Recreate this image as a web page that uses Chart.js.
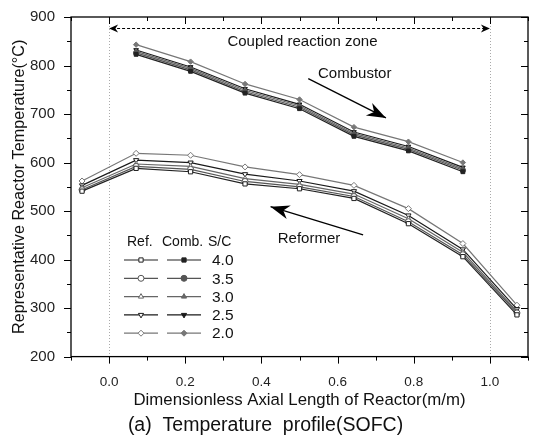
<!DOCTYPE html>
<html>
<head>
<meta charset="utf-8">
<script src="https://cdn.jsdelivr.net/npm/chart.js@4.4.1/dist/chart.umd.min.js"></script>
<style>
html, body { margin: 0; padding: 0; background: #fff; }
</style>
</head>
<body>
<canvas id="tempChart" width="533" height="445"></canvas>
<script>
// axial positions (m/m)
const combX = [0.071, 0.214, 0.357, 0.5, 0.643, 0.786, 0.929];
const refX = [-0.071, 0.071, 0.214, 0.357, 0.5, 0.643, 0.786, 0.929, 1.071];
const ratios = ['4.0', '3.5', '3.0', '2.5', '2.0'];

// combustor temperatures by S/C
const comb40 = [823, 788, 743, 711, 654, 624, 581];
const comb35 = [826, 791, 746, 714, 657, 627, 584];
const comb30 = [829, 794, 749, 717, 660, 630, 587];
const comb25 = [832, 797, 752, 720, 663, 633, 590];
const comb20 = [843, 808, 762, 730, 673, 643, 600];

// reformer temperatures by S/C
const ref40 = [541, 588, 581, 556, 546, 526, 474, 406, 286];
const ref35 = [544, 592, 586, 561, 550, 530, 478, 410, 290];
const ref30 = [548, 597, 592, 567, 555, 535, 484, 415, 293];
const ref25 = [553, 605, 600, 576, 562, 541, 491, 421, 298];
const ref20 = [562, 619, 615, 591, 575, 553, 505, 433, 306];

const xTicks = [0.0, 0.2, 0.4, 0.6, 0.8, 1.0];
const yTicks = [200, 300, 400, 500, 600, 700, 800, 900];

const FONT = "'Liberation Sans', Arial, sans-serif";

const styles = [
	{ color: '#222', style: 'rect', rot: 0 },
	{ color: '#555', style: 'circle', rot: 0 },
	{ color: '#666', style: 'triangle', rot: 0 },
	{ color: '#1a1a1a', style: 'triangle', rot: 180 },
	{ color: '#777', style: 'rectRot', rot: 0 },
];

function pts(xs, ys) {
	return xs.map((v, i) => ({ x: v, y: ys[i] }));
}

const refSeries = [ref40, ref35, ref30, ref25, ref20];
const combSeries = [comb40, comb35, comb30, comb25, comb20];
const datasets = [];
refSeries.forEach((s, i) => {
	datasets.push({
		label: 'Ref. ' + ratios[i],
		data: pts(refX, s),
		borderColor: styles[i].color,
		backgroundColor: '#fff',
		pointBorderColor: styles[i].color,
		pointBackgroundColor: '#fff',
		pointStyle: styles[i].style,
		pointRotation: styles[i].rot,
		pointRadius: 3,
		borderWidth: 1.2,
		pointBorderWidth: 1,
	});
});
combSeries.forEach((s, i) => {
	datasets.push({
		label: 'Comb. ' + ratios[i],
		data: pts(combX, s),
		borderColor: styles[i].color,
		backgroundColor: styles[i].color,
		pointBorderColor: styles[i].color,
		pointBackgroundColor: styles[i].color,
		pointStyle: styles[i].style,
		pointRotation: styles[i].rot,
		pointRadius: 2.7,
		borderWidth: 1.2,
		pointBorderWidth: 1,
	});
});

function arrowHead(ctx, x1, y1, x2, y2, len, wid) {
	// filled head at (x2, y2)
	const a = Math.atan2(y2 - y1, x2 - x1);
	ctx.beginPath();
	ctx.moveTo(x2, y2);
	ctx.lineTo(x2 - len * Math.cos(a) + wid * Math.sin(a), y2 - len * Math.sin(a) - wid * Math.cos(a));
	ctx.lineTo(x2 - len * 0.7 * Math.cos(a), y2 - len * 0.7 * Math.sin(a));
	ctx.lineTo(x2 - len * Math.cos(a) - wid * Math.sin(a), y2 - len * Math.sin(a) + wid * Math.cos(a));
	ctx.closePath();
	ctx.fill();
}

const zonePlugin = {
	id: 'zone',
	beforeDatasetsDraw(chart) {
		const { ctx, chartArea: a, scales: { x } } = chart;
		ctx.save();
		ctx.strokeStyle = '#aaa';
		ctx.lineWidth = 1;
		ctx.setLineDash([1, 2]);
		[0, 1].forEach((v) => {
			const px = Math.round(x.getPixelForValue(v)) + 0.5;
			ctx.beginPath();
			ctx.moveTo(px, a.top);
			ctx.lineTo(px, a.bottom);
			ctx.stroke();
		});
		ctx.restore();
	},
	afterDraw(chart) {
		const { ctx, chartArea: a, scales: { x, y } } = chart;
		ctx.save();

		// coupled reaction zone arrow
		const x0 = x.getPixelForValue(0), x1 = x.getPixelForValue(1);
		const ya = Math.round(y.getPixelForValue(878)) + 0.5;
		ctx.strokeStyle = '#000';
		ctx.fillStyle = '#000';
		ctx.lineWidth = 1;
		ctx.setLineDash([3, 2]);
		ctx.beginPath();
		ctx.moveTo(x0 + 3, ya);
		ctx.lineTo(x1 - 3, ya);
		ctx.stroke();
		ctx.setLineDash([]);
		arrowHead(ctx, x0 + 10, ya, x0, ya, 9, 4);
		arrowHead(ctx, x1 - 10, ya, x1, ya, 9, 4);
		ctx.font = '15px ' + FONT;
		ctx.textAlign = 'center';
		ctx.textBaseline = 'middle';
		ctx.fillStyle = '#111';
		ctx.fillText('Coupled reaction zone', (x0 + x1) / 2 + 3, y.getPixelForValue(848));

		// combustor label and arrow
		ctx.fillText('Combustor', x.getPixelForValue(0.645), y.getPixelForValue(783));
		let ax1 = x.getPixelForValue(0.523), ay1 = y.getPixelForValue(773);
		let ax2 = x.getPixelForValue(0.727), ay2 = y.getPixelForValue(692);
		ctx.strokeStyle = '#000';
		ctx.lineWidth = 1.3;
		ctx.beginPath();
		ctx.moveTo(ax1, ay1);
		ctx.lineTo(ax2, ay2);
		ctx.stroke();
		ctx.fillStyle = '#000';
		arrowHead(ctx, ax1, ay1, ax2, ay2, 19, 7);

		// reformer label and arrow
		ctx.fillStyle = '#111';
		ctx.fillText('Reformer', x.getPixelForValue(0.525), y.getPixelForValue(443));
		ax1 = x.getPixelForValue(0.667); ay1 = y.getPixelForValue(451);
		ax2 = x.getPixelForValue(0.424); ay2 = y.getPixelForValue(509);
		ctx.beginPath();
		ctx.moveTo(ax1, ay1);
		ctx.lineTo(ax2, ay2);
		ctx.stroke();
		ctx.fillStyle = '#000';
		arrowHead(ctx, ax1, ay1, ax2, ay2, 19, 7);

		// legend
		const ds = chart.data.datasets;
		ctx.font = '14px ' + FONT;
		ctx.textAlign = 'left';
		ctx.textBaseline = 'middle';
		ctx.fillStyle = '#111';
		ctx.fillText('Ref.', 127, 242);
		ctx.fillText('Comb.', 162, 242);
		ctx.fillText('S/C', 208, 242);
		ctx.font = '15.5px ' + FONT;
		ratios.forEach((r, i) => {
			const ly = 260 + i * 18.3;
			[[ds[i], 124, 158], [ds[i + 5], 167, 201]].forEach(([d, l, rgt]) => {
				ctx.strokeStyle = d.borderColor;
				ctx.lineWidth = 1.2;
				ctx.beginPath();
				ctx.moveTo(l, ly);
				ctx.lineTo(rgt, ly);
				ctx.stroke();
				ctx.fillStyle = d.pointBackgroundColor;
				ctx.strokeStyle = d.pointBorderColor;
				ctx.lineWidth = 1;
				Chart.helpers.drawPoint(ctx, { pointStyle: d.pointStyle, rotation: d.pointRotation, radius: 3, borderWidth: 1 }, (l + rgt) / 2, ly);
			});
			ctx.fillStyle = '#111';
			ctx.fillText(r, 212, ly + 1);
		});

		// frame and ticks
		ctx.strokeStyle = '#000';
		ctx.lineWidth = 1.3;
		ctx.strokeRect(a.left, a.top, a.right - a.left, a.bottom - a.top);
		ctx.lineWidth = 1;
		ctx.beginPath();
		for (let i = 0; i <= 12; i++) {
			const v = -0.1 + i * 0.1;
			const px = Math.round(x.getPixelForValue(v)) + 0.5;
			const len = i % 2 === 1 ? 7 : 4;
			ctx.moveTo(px, a.bottom);
			ctx.lineTo(px, a.bottom + len);
			ctx.moveTo(px, a.top);
			ctx.lineTo(px, a.top + len);
		}
		for (let v = 200; v <= 900; v += 50) {
			const py = Math.round(y.getPixelForValue(v)) + 0.5;
			const len = v % 100 === 0 ? 7 : 4;
			ctx.moveTo(a.left - len, py);
			ctx.lineTo(a.left, py);
			ctx.moveTo(a.right - len, py);
			ctx.lineTo(a.right, py);
		}
		ctx.stroke();
		ctx.restore();
	},
};

const ctx = document.getElementById('tempChart').getContext('2d');
const tempChart = new Chart(ctx, {
	type: 'line',
	data: { datasets: datasets },
	options: {
		responsive: false,
		animation: false,
		devicePixelRatio: 1,
		layout: { padding: { top: 14, right: 2, left: 0, bottom: 0 } },
		elements: { line: { tension: 0 } },
		scales: {
			x: {
				type: 'linear',
				min: -0.1,
				max: 1.1,
				afterFit: (s) => { s.height = 55; },
				afterBuildTicks: (s) => { s.ticks = xTicks.map((v) => ({ value: v })); },
				grid: { display: false },
				border: { display: false },
				ticks: {
					autoSkip: false,
					maxRotation: 0,
					padding: 10,
					color: '#222',
					font: { family: FONT, size: 13.5 },
					callback: (v) => Number(v).toFixed(1),
				},
				title: {
					display: true,
					text: 'Dimensionless Axial Length of Reactor(m/m)',
					color: '#111',
					font: { family: FONT, size: 16.8 },
					padding: { top: 0, bottom: 1 },
				},
			},
			y: {
				min: 200,
				max: 900,
				afterFit: (s) => { s.width = 71; },
				afterBuildTicks: (s) => { s.ticks = yTicks.map((v) => ({ value: v })); },
				grid: { display: false },
				border: { display: false },
				ticks: {
					padding: 8,
					color: '#222',
					font: { family: FONT, size: 15 },
				},
				title: {
					display: true,
					text: 'Representative Reactor Temperature(°C)',
					color: '#111',
					font: { family: FONT, size: 16.2 },
					padding: { top: 10, bottom: 0 },
				},
			},
		},
		plugins: {
			legend: { display: false },
			tooltip: { enabled: false },
			title: {
				display: true,
				position: 'bottom',
				text: '(a)  Temperature  profile(SOFC)',
				color: '#111',
				font: { family: FONT, size: 19.5, weight: 'normal' },
				padding: { top: 2, bottom: 8 },
			},
		},
	},
	plugins: [zonePlugin],
});
</script>
</body>
</html>
